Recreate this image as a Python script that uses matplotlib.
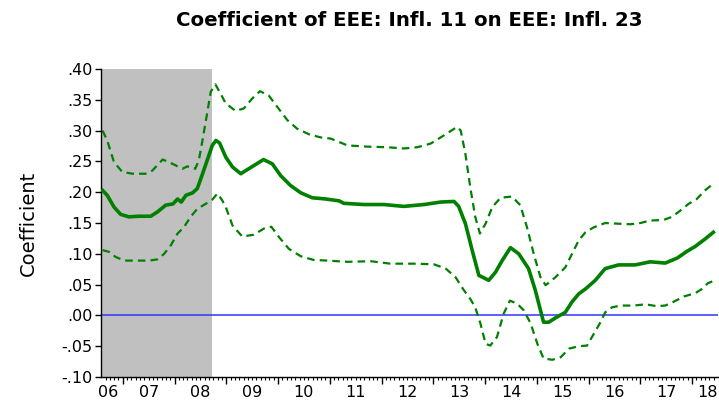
import numpy as np
import matplotlib.pyplot as plt
from matplotlib import transforms

# dates as decimal years (monthly data, Aug 2006 - Jun 2018)
t_coef = [2006.61, 2006.70, 2006.83, 2006.96, 2007.12, 2007.31, 2007.54, 2007.67,
          2007.83, 2007.97, 2008.06, 2008.13, 2008.22, 2008.35, 2008.44, 2008.53,
          2008.64, 2008.73, 2008.80, 2008.87, 2008.99, 2009.12, 2009.28, 2009.47,
          2009.72, 2009.89, 2010.05, 2010.24, 2010.44, 2010.66, 2010.92, 2011.18,
          2011.27, 2011.66, 2012.04, 2012.43, 2012.82, 2013.14, 2013.40, 2013.49,
          2013.62, 2013.75, 2013.88, 2014.07, 2014.20, 2014.33, 2014.49, 2014.65,
          2014.84, 2014.97, 2015.13, 2015.23, 2015.36, 2015.55, 2015.68, 2015.81,
          2015.94, 2016.13, 2016.32, 2016.58, 2016.90, 2017.19, 2017.48, 2017.71,
          2017.90, 2018.06, 2018.25, 2018.41]
coef = [0.203, 0.195, 0.176, 0.164, 0.160, 0.161, 0.161, 0.168,
        0.179, 0.181, 0.189, 0.184, 0.195, 0.199, 0.206, 0.227,
        0.254, 0.276, 0.284, 0.280, 0.257, 0.241, 0.230, 0.240,
        0.253, 0.246, 0.227, 0.211, 0.199, 0.191, 0.189, 0.186,
        0.182, 0.180, 0.180, 0.177, 0.180, 0.184, 0.185, 0.177,
        0.149, 0.106, 0.065, 0.057, 0.070, 0.089, 0.110, 0.100,
        0.076, 0.041, -0.011, -0.011, -0.004, 0.005, 0.022, 0.035,
        0.043, 0.057, 0.076, 0.082, 0.082, 0.087, 0.085, 0.093,
        0.104, 0.112, 0.124, 0.135]

t_upper = [2006.61, 2006.70, 2006.83, 2006.99, 2007.19, 2007.44, 2007.57, 2007.77,
           2007.89, 2008.06, 2008.15, 2008.25, 2008.40, 2008.47, 2008.54, 2008.64,
           2008.70, 2008.79, 2008.89, 2008.99, 2009.18, 2009.34, 2009.50, 2009.65,
           2009.82, 2009.99, 2010.18, 2010.37, 2010.60, 2010.82, 2011.02, 2011.34,
           2011.72, 2012.11, 2012.43, 2012.69, 2012.95, 2013.20, 2013.46, 2013.53,
           2013.62, 2013.72, 2013.81, 2013.90, 2014.01, 2014.14, 2014.30, 2014.52,
           2014.68, 2014.81, 2014.94, 2015.07, 2015.17, 2015.36, 2015.55, 2015.68,
           2015.81, 2015.94, 2016.10, 2016.32, 2016.55, 2016.81, 2017.00, 2017.19,
           2017.45, 2017.61, 2017.77, 2017.93, 2018.09, 2018.25, 2018.41]
upper = [0.300, 0.284, 0.249, 0.233, 0.230, 0.230, 0.235, 0.253,
         0.249, 0.242, 0.238, 0.242, 0.238, 0.252, 0.284, 0.333,
         0.363, 0.375, 0.360, 0.344, 0.332, 0.336, 0.352, 0.364,
         0.357, 0.338, 0.317, 0.303, 0.294, 0.289, 0.287, 0.276,
         0.274, 0.273, 0.271, 0.273, 0.279, 0.292, 0.306, 0.300,
         0.262, 0.205, 0.160, 0.133, 0.149, 0.176, 0.191, 0.193,
         0.179, 0.143, 0.100, 0.062, 0.049, 0.062, 0.078, 0.100,
         0.122, 0.135, 0.143, 0.150, 0.149, 0.148, 0.150, 0.154,
         0.155, 0.160, 0.170, 0.181, 0.189, 0.203, 0.214]

t_lower = [2006.61, 2006.74, 2006.86, 2007.03, 2007.25, 2007.51, 2007.67, 2007.80,
           2007.93, 2008.06, 2008.18, 2008.31, 2008.44, 2008.60, 2008.73, 2008.83,
           2008.92, 2008.99, 2009.12, 2009.31, 2009.53, 2009.73, 2009.87, 2010.02,
           2010.21, 2010.44, 2010.69, 2010.95, 2011.34, 2011.79, 2012.17, 2012.62,
           2013.01, 2013.24, 2013.43, 2013.59, 2013.72, 2013.81, 2013.91, 2014.01,
           2014.10, 2014.23, 2014.36, 2014.48, 2014.62, 2014.75, 2014.88, 2015.01,
           2015.13, 2015.30, 2015.46, 2015.62, 2015.81, 2015.97, 2016.10, 2016.23,
           2016.32, 2016.45, 2016.61, 2016.87, 2017.10, 2017.32, 2017.48, 2017.64,
           2017.85, 2018.06, 2018.19, 2018.30, 2018.41]
lower = [0.106, 0.103, 0.095, 0.089, 0.089, 0.089, 0.091, 0.100,
         0.114, 0.133, 0.143, 0.160, 0.173, 0.181, 0.188, 0.198,
         0.187, 0.176, 0.146, 0.128, 0.131, 0.141, 0.144, 0.127,
         0.108, 0.096, 0.090, 0.089, 0.087, 0.088, 0.084, 0.084,
         0.083, 0.076, 0.062, 0.041, 0.026, 0.013, -0.013, -0.046,
         -0.049, -0.035, 0.003, 0.024, 0.019, 0.008, -0.013, -0.046,
         -0.070, -0.072, -0.068, -0.054, -0.050, -0.049, -0.030, -0.011,
         0.005, 0.013, 0.016, 0.016, 0.018, 0.015, 0.016, 0.022,
         0.031, 0.036, 0.043, 0.052, 0.056]

shade_start, shade_end = 2006.59, 2008.72
years = list(range(2007, 2019))
year_labels = ['06', '07', '08', '09', '10', '11', '12', '13', '14', '15', '16', '17', '18']
label_pos = [2006.72] + [y + 0.5 for y in range(2007, 2018)] + [2018.30]
yticks = [-0.10, -0.05, 0.0, 0.05, 0.10, 0.15, 0.20, 0.25, 0.30, 0.35, 0.40]

fig = plt.figure(figsize=(7.19, 4.05), dpi=100)
ax = fig.add_axes([0.1405, 0.0691, 0.8581, 0.7605])

green = '#008000'
ax.axvspan(shade_start, shade_end, color='#c0c0c0', lw=0, zorder=0)
ax.axhline(0, color='#3333ff', lw=1.1, zorder=1)
ax.plot(t_upper, upper, color=green, lw=1.6, dashes=(3.4, 2.3), zorder=2)
ax.plot(t_lower, lower, color=green, lw=1.6, dashes=(3.4, 2.3), zorder=2)
ax.plot(t_coef, coef, color=green, lw=2.6, zorder=3, solid_joinstyle='round')

ax.set_xlim(2006.58, 2018.50)
ax.set_ylim(-0.10, 0.40)

for s in ['top', 'right']:
    ax.spines[s].set_visible(False)
ax.spines['left'].set_linewidth(1.0)
ax.spines['bottom'].set_linewidth(1.0)

ax.set_yticks(yticks)
ax.set_yticklabels([('-' if v < 0 else '') + ('%.2f' % abs(v))[1:] for v in yticks])
ax.tick_params(axis='y', direction='out', length=4, width=1, labelsize=11.5, pad=2)

ax.set_xticks(years)
ax.set_xticklabels([])
ax.set_xticks(np.arange(2006 + 8 / 12, 2018.5, 1 / 12), minor=True)
ax.tick_params(axis='x', which='major', direction='out', length=5, width=1)
ax.tick_params(axis='x', which='minor', direction='out', length=2.5, width=0.8)

trans = transforms.blended_transform_factory(ax.transData, ax.transAxes)
for p, lab in zip(label_pos, year_labels):
    ax.text(p, -0.025, lab, transform=trans, ha='center', va='top', fontsize=11.5)

ax.set_ylabel('Coefficient', fontsize=14, labelpad=17)
ax.set_title('Coefficient of EEE: Infl. 11 on EEE: Infl. 23',
             fontsize=14.2, fontweight='bold', pad=31)

fig.savefig('out.png', dpi=100)
